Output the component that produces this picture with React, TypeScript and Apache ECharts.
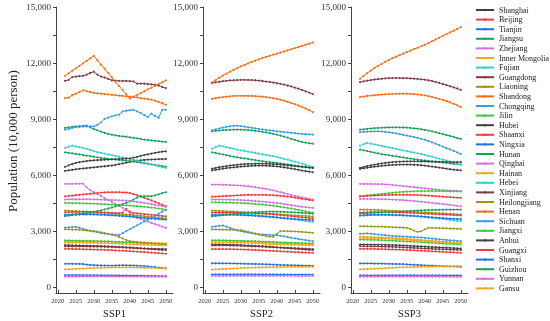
import React, { useEffect, useRef } from 'react';
import * as echarts from 'echarts';

const years = [2022, 2023, 2024, 2025, 2026, 2027, 2028, 2029, 2030, 2031, 2032, 2033, 2034, 2035, 2036, 2037, 2038, 2039, 2040, 2041, 2042, 2043, 2044, 2045, 2046, 2047, 2048, 2049, 2050];
const provinces = ['Shanghai', 'Beijing', 'Tianjin', 'Jiangsu', 'Zhejiang', 'Inner Mongolia', 'Fujian', 'Guangdong', 'Liaoning', 'Shandong', 'Chongqing', 'Jilin', 'Hubei', 'Shaanxi', 'Ningxia', 'Hunan', 'Qinghai', 'Hainan', 'Hebei', 'Xinjiang', 'Heilongjiang', 'Henan', 'Sichuan', 'Jiangxi', 'Anhui', 'Guangxi', 'Shanxi', 'Guizhou', 'Yunnan', 'Gansu'];
const palette = ['#404040', '#f23c3c', '#1f6fe8', '#16a05a', '#d66fe0', '#f0a81c', '#2ed0d0', '#7d3b45', '#9a961a', '#ff6a10', '#3a9ae0', '#3cc83c'];
const panelTitles = ['SSP1', 'SSP2', 'SSP3'];
const yTicks = [0, 3000, 6000, 9000, 12000, 15000];
const yMinorTicks = [0, 1500, 3000, 4500, 6000, 7500, 9000, 10500, 12000, 13500, 15000];
const xTicks = [2020, 2025, 2030, 2035, 2040, 2045, 2050];

// ---------- SSP1 ----------
const ssp1Shanghai = [2260,2255,2250,2245,2240,2235,2230,2225,2220,2215,2210,2200,2190,2180,2170,2160,2150,2140,2130,2115,2100,2090,2075,2060,2050,2035,2020,2010,2000];
const ssp1Beijing = [2065,2060,2055,2050,2045,2040,2035,2030,2025,2020,2015,2010,2000,1990,1980,1970,1960,1950,1940,1925,1910,1900,1890,1875,1860,1845,1830,1815,1800];
const ssp1Tianjin = [1265,1265,1260,1260,1255,1250,1220,1200,1190,1180,1175,1170,1165,1160,1170,1180,1185,1180,1175,1170,1160,1150,1140,1120,1100,1080,1060,1040,1020];
const ssp1Jiangsu = [8530,8560,8590,8610,8620,8640,8650,8560,8470,8400,8330,8260,8210,8170,8130,8100,8080,8060,8030,8000,7970,7940,7910,7880,7860,7840,7820,7800,7780];
const ssp1Zhejiang = [5535,5540,5540,5545,5545,5550,5350,5200,5100,4990,4890,4780,4680,4570,4470,4360,4255,4120,3990,3850,3720,3650,3590,3520,3450,3390,3320,3250,3190];
const ssp1InnerMongolia = [2475,2475,2470,2470,2465,2465,2460,2460,2455,2450,2450,2445,2440,2440,2435,2430,2425,2420,2415,2410,2405,2400,2395,2390,2380,2375,2365,2360,2350];
const ssp1Fujian = [3900,3910,3920,3930,3935,3940,3940,3940,3935,3930,3925,3915,3905,3895,3880,3865,3850,3835,3820,3800,3780,3760,3740,3720,3705,3690,3675,3660,3650];
const ssp1Guangdong = [11050,11100,11250,11280,11300,11320,11380,11470,11540,11380,11280,11230,11150,11080,11060,11050,11040,11050,11030,11020,10900,10900,10900,10880,10860,10840,10800,10720,10660];
const ssp1Liaoning = [4110,4100,4090,4080,4070,4060,4050,4040,4030,4015,4000,3990,3975,3960,3945,3930,3915,3900,3880,3860,3845,3830,3810,3790,3770,3750,3730,3710,3690];
const ssp1Shandong = [11320,11450,11590,11720,11850,11980,12120,12250,12380,12150,11920,11700,11470,11240,11010,10780,10560,10330,10100,10200,10290,10390,10490,10590,10680,10780,10880,10970,11070];
const ssp1Chongqing = [3190,3210,3225,3240,3190,3130,3080,3030,2990,2950,2910,2880,2850,2830,2810,2800,2900,3010,3110,3210,3320,3420,3530,3630,3730,3840,3940,4050,4150];
const ssp1Jilin = [2510,2510,2505,2500,2500,2495,2490,2485,2480,2475,2470,2465,2460,2450,2440,2430,2420,2410,2400,2390,2380,2370,2360,2350,2340,2330,2320,2310,2300];
const ssp1Hubei = [6230,6260,6290,6320,6340,6360,6380,6400,6420,6440,6460,6480,6500,6520,6550,6590,6630,6670,6710,6750,6780,6800,6820,6830,6840,6850,6860,6865,6870];
const ssp1Shaanxi = [4020,4025,4030,4035,4040,4040,4040,4035,4030,4025,4020,4010,4000,3990,3980,3970,4000,4200,4050,3980,3960,3940,3920,3900,3880,3860,3840,3820,3800];
const ssp1Ningxia = [660,660,660,660,655,655,655,655,650,650,650,645,645,645,640,640,635,635,630,630,625,625,620,615,615,610,605,600,600];
const ssp1Hunan = [7225,7200,7170,7140,7110,7080,7050,7020,6990,6960,6930,6900,6880,6860,6840,6820,6800,6780,6760,6730,6700,6670,6640,6610,6580,6550,6520,6490,6460];
const ssp1Qinghai = [575,578,580,582,583,584,585,585,585,585,585,584,584,583,582,581,580,579,578,577,576,575,574,573,572,571,570,569,568];
const ssp1Hainan = [960,970,980,990,1000,1010,1020,1030,1040,1045,1050,1055,1060,1065,1070,1070,1070,1070,1070,1065,1060,1055,1050,1045,1040,1035,1030,1020,1010];
const ssp1Hebei = [7460,7530,7580,7540,7500,7460,7410,7350,7280,7240,7200,7160,7110,7070,7030,6990,6950,6910,6870,6830,6780,6730,6680,6630,6580,6530,6480,6430,6390];
const ssp1Xinjiang = [2200,2200,2200,2195,2195,2190,2190,2185,2185,2180,2180,2175,2170,2165,2160,2150,2140,2130,2120,2110,2100,2090,2080,2075,2070,2065,2060,2055,2050];
const ssp1Heilongjiang = [3100,3100,3095,3090,3080,3060,3040,3020,3010,2980,2940,2900,2860,2820,2780,2700,2620,2540,2470,2450,2430,2410,2390,2370,2350,2340,2320,2310,2300];
const ssp1Henan = [10130,10150,10280,10360,10450,10540,10500,10450,10400,10380,10360,10340,10320,10300,10280,10260,10240,10220,10200,10180,10160,10130,10100,10070,10040,9990,9920,9850,9770];
const ssp1Sichuan = [8440,8480,8530,8580,8590,8600,8605,8610,8610,8700,8830,9020,9080,9150,9200,9240,9410,9450,9480,9500,9420,9330,9220,9110,9290,9180,9070,9500,9500];
const ssp1Jiangxi = [4520,4515,4510,4505,4500,4495,4490,4485,4480,4470,4460,4450,4440,4430,4420,4410,4400,4390,4375,4360,4345,4330,4310,4290,4270,4250,4220,4190,4165];
const ssp1Anhui = [6450,6530,6600,6660,6700,6730,6760,6780,6800,6810,6820,6830,6840,6850,6860,6870,6880,6890,6900,6940,6980,7030,7080,7120,7160,7200,7230,7260,7280];
const ssp1Guangxi = [4875,4890,4910,4930,4950,4970,4990,5010,5030,5050,5070,5080,5090,5090,5090,5090,5080,5070,5050,4990,4930,4860,4790,4720,4650,4580,4500,4420,4340];
const ssp1Shanxi = [3860,3870,3880,3890,3895,3900,3900,3900,3895,3890,3885,3875,3865,3855,3845,3830,3815,3800,3785,3770,3750,3730,3710,3690,3680,3670,3655,3640,3630];
const ssp1Guizhou = [3810,3840,3870,3900,3930,3960,3990,4020,4050,4080,4120,4170,4220,4270,4330,4390,4450,4520,4600,4700,4800,4880,4880,4880,4880,4920,4980,5040,5090];
const ssp1Yunnan = [4700,4705,4710,4712,4714,4715,4715,4712,4708,4703,4695,4688,4680,4675,4670,4660,4650,4635,4620,4600,4580,4550,4520,4490,4460,4420,4390,4350,4310];
const ssp1Gansu = [2400,2400,2400,2395,2395,2390,2390,2385,2380,2375,2370,2365,2360,2355,2350,2340,2330,2320,2310,2300,2290,2280,2275,2270,2265,2260,2255,2250,2250];

// ---------- SSP2 ----------
const ssp2Shanghai = [2300,2300,2300,2295,2290,2285,2280,2270,2260,2250,2240,2230,2220,2210,2200,2190,2175,2160,2145,2130,2115,2100,2085,2070,2055,2040,2025,2010,2000];
const ssp2Beijing = [2050,2050,2050,2050,2050,2045,2040,2035,2030,2025,2020,2010,2000,1990,1980,1970,1960,1950,1940,1930,1920,1910,1900,1890,1880,1870,1860,1855,1850];
const ssp2Tianjin = [1290,1290,1290,1285,1285,1280,1280,1275,1270,1265,1260,1255,1250,1245,1240,1235,1230,1220,1210,1200,1195,1190,1185,1180,1175,1170,1165,1160,1150];
const ssp2Jiangsu = [8350,8370,8390,8410,8420,8430,8440,8440,8440,8430,8420,8400,8380,8350,8320,8290,8250,8210,8170,8120,8070,8010,7950,7890,7830,7780,7740,7710,7690];
const ssp2Zhejiang = [5500,5500,5495,5490,5485,5475,5465,5455,5445,5430,5410,5390,5360,5330,5300,5270,5230,5190,5140,5090,5040,4990,4940,4890,4850,4810,4770,4730,4700];
const ssp2InnerMongolia = [2500,2500,2500,2495,2490,2485,2480,2475,2470,2460,2450,2440,2430,2420,2410,2400,2390,2380,2370,2360,2350,2345,2340,2335,2330,2320,2315,2310,2300];
const ssp2Fujian = [3900,3910,3920,3925,3930,3930,3930,3925,3920,3910,3900,3885,3870,3850,3830,3810,3790,3770,3750,3730,3710,3690,3670,3640,3610,3580,3550,3520,3500];
const ssp2Guangdong = [10930,10970,11000,11030,11050,11070,11080,11090,11100,11100,11095,11090,11080,11060,11040,11010,10990,10960,10930,10890,10850,10800,10750,10690,10630,10560,10490,10420,10340];
const ssp2Liaoning = [4110,4100,4090,4080,4070,4060,4050,4040,4030,4020,4010,4000,3990,3980,3970,3960,3950,3935,3920,3905,3890,3875,3860,3850,3840,3830,3820,3810,3800];
const ssp2Shandong = [10960,11090,11210,11330,11440,11540,11640,11730,11820,11900,11980,12060,12130,12200,12270,12330,12390,12450,12500,12560,12620,12680,12740,12800,12860,12920,12980,13040,13100];
const ssp2Chongqing = [3240,3260,3290,3310,3250,3180,3110,3050,3010,2970,2930,2900,2870,2840,2830,2820,2810,2800,2790,2760,2730,2690,2650,2620,2590,2560,2530,2500,2470];
const ssp2Jilin = [2520,2520,2515,2515,2510,2505,2500,2495,2490,2485,2480,2475,2470,2460,2450,2445,2440,2430,2420,2410,2400,2395,2390,2380,2375,2370,2365,2355,2350];
const ssp2Hubei = [6265,6290,6320,6350,6380,6400,6420,6440,6460,6475,6490,6500,6510,6515,6515,6510,6500,6490,6470,6450,6420,6390,6360,6330,6290,6250,6220,6190,6160];
const ssp2Shaanxi = [4000,4005,4010,4010,4010,4010,4005,4000,3995,3990,3985,3975,3965,3955,3945,3935,3920,3905,3890,3870,3850,3830,3810,3790,3770,3750,3730,3715,3700];
const ssp2Ningxia = [690,692,694,695,696,697,698,698,698,698,698,697,697,696,695,694,693,692,691,690,689,688,687,686,685,684,683,682,680];
const ssp2Hunan = [7225,7190,7150,7110,7070,7030,6990,6960,6925,6900,6870,6840,6810,6780,6750,6720,6700,6680,6660,6630,6600,6580,6550,6520,6490,6460,6440,6410,6390];
const ssp2Qinghai = [610,611,612,613,614,615,616,617,618,618,619,619,620,620,620,620,620,620,620,619,619,618,618,617,616,615,614,613,612];
const ssp2Hainan = [950,960,970,980,990,1000,1010,1020,1030,1040,1050,1055,1060,1065,1070,1075,1080,1085,1090,1090,1095,1095,1098,1100,1100,1100,1100,1100,1100];
const ssp2Hebei = [7420,7500,7580,7540,7500,7460,7420,7370,7330,7300,7260,7230,7190,7160,7120,7090,7050,7020,6980,6930,6880,6830,6780,6730,6680,6620,6560,6500,6440];
const ssp2Xinjiang = [2250,2250,2250,2250,2245,2240,2235,2230,2225,2220,2210,2200,2195,2190,2180,2170,2160,2150,2140,2130,2120,2110,2100,2095,2090,2080,2070,2060,2050];
const ssp2Heilongjiang = [3100,3100,3095,3090,3085,3080,3075,3070,3060,3020,2980,2930,2880,2830,2790,2750,2720,2705,2860,3010,3010,3005,3000,2990,2980,2965,2950,2935,2920];
const ssp2Henan = [10090,10120,10150,10180,10200,10220,10240,10245,10250,10250,10245,10240,10230,10215,10200,10180,10155,10125,10090,10040,9990,9930,9870,9800,9730,9650,9570,9480,9380];
const ssp2Sichuan = [8400,8450,8500,8550,8590,8620,8640,8650,8630,8600,8570,8540,8510,8480,8450,8420,8400,8380,8350,8330,8310,8290,8270,8250,8230,8210,8200,8180,8170];
const ssp2Jiangxi = [4550,4550,4545,4540,4535,4530,4525,4520,4510,4500,4490,4475,4460,4445,4430,4410,4390,4370,4340,4310,4280,4250,4220,4180,4150,4110,4070,4030,4000];
const ssp2Anhui = [6350,6390,6430,6460,6490,6520,6540,6560,6580,6595,6605,6610,6615,6620,6620,6615,6610,6600,6590,6570,6550,6530,6510,6490,6470,6450,6430,6410,6390];
const ssp2Guangxi = [4850,4860,4870,4880,4890,4900,4910,4920,4930,4940,4945,4950,4950,4950,4950,4945,4940,4930,4915,4900,4880,4860,4830,4800,4770,4740,4710,4680,4650];
const ssp2Shanxi = [3850,3860,3870,3875,3880,3880,3880,3875,3870,3860,3850,3840,3830,3815,3800,3785,3770,3755,3740,3720,3700,3685,3670,3655,3640,3630,3620,3610,3600];
const ssp2Guizhou = [3800,3820,3840,3860,3880,3900,3920,3940,3960,3980,3995,4010,4020,4030,4040,4045,4050,4050,4050,4045,4040,4030,4020,4010,4000,3990,3975,3960,3950];
const ssp2Yunnan = [4700,4700,4700,4700,4695,4690,4685,4680,4670,4660,4650,4635,4620,4605,4590,4570,4550,4530,4510,4490,4460,4430,4400,4370,4340,4310,4290,4270,4250];
const ssp2Gansu = [2420,2420,2420,2415,2410,2405,2400,2395,2390,2385,2380,2370,2360,2350,2340,2330,2320,2310,2300,2295,2290,2285,2280,2275,2270,2265,2260,2255,2250];

// ---------- SSP3 ----------
const ssp3Shanghai = [2295,2295,2295,2290,2290,2285,2280,2275,2270,2265,2260,2250,2240,2230,2220,2210,2200,2190,2180,2170,2160,2150,2140,2130,2120,2110,2100,2090,2080];
const ssp3Beijing = [2065,2065,2060,2060,2055,2050,2045,2040,2035,2030,2025,2020,2010,2000,1990,1980,1970,1960,1950,1940,1930,1920,1910,1900,1890,1880,1870,1860,1850];
const ssp3Tianjin = [1280,1280,1280,1280,1275,1275,1270,1265,1260,1255,1250,1245,1240,1230,1220,1210,1200,1190,1180,1170,1160,1150,1140,1135,1130,1120,1115,1110,1100];
const ssp3Jiangsu = [8440,8460,8480,8500,8515,8530,8540,8550,8555,8560,8560,8560,8555,8545,8530,8510,8490,8460,8430,8390,8350,8300,8250,8200,8150,8100,8050,7990,7940];
const ssp3Zhejiang = [5535,5535,5535,5530,5530,5525,5520,5510,5500,5480,5460,5440,5420,5400,5380,5360,5340,5320,5300,5280,5260,5240,5220,5200,5190,5180,5170,5160,5145];
const ssp3InnerMongolia = [2705,2700,2695,2690,2685,2680,2670,2660,2650,2640,2630,2620,2610,2595,2580,2565,2550,2535,2520,2505,2490,2475,2460,2445,2430,2420,2405,2395,2385];
const ssp3Fujian = [3830,3845,3860,3870,3880,3885,3890,3890,3890,3885,3880,3870,3860,3850,3835,3820,3800,3780,3760,3740,3720,3700,3680,3660,3640,3610,3590,3560,3540];
const ssp3Guangdong = [10980,11020,11060,11090,11120,11140,11160,11180,11190,11200,11200,11200,11195,11190,11180,11165,11150,11130,11110,11080,11040,10990,10940,10880,10820,10760,10700,10640,10570];
const ssp3Liaoning = [4165,4160,4155,4150,4145,4140,4130,4120,4110,4100,4090,4080,4070,4060,4050,4040,4030,4020,4010,4000,3990,3980,3970,3960,3950,3940,3925,3910,3900];
const ssp3Shandong = [11160,11320,11460,11600,11730,11850,11960,12070,12175,12260,12340,12420,12500,12590,12670,12750,12820,12900,12980,13070,13170,13260,13360,13460,13550,13640,13730,13830,13920];
const ssp3Chongqing = [2865,2880,2890,2870,2850,2830,2810,2790,2770,2750,2740,2730,2720,2710,2700,2690,2680,2670,2650,2630,2610,2590,2570,2560,2540,2520,2510,2490,2475];
const ssp3Jilin = [2560,2555,2550,2545,2540,2535,2530,2520,2510,2500,2490,2480,2470,2460,2450,2440,2430,2420,2405,2390,2380,2370,2355,2345,2335,2325,2315,2305,2300];
const ssp3Hubei = [6340,6370,6400,6430,6460,6480,6500,6520,6540,6550,6560,6565,6570,6570,6570,6560,6550,6535,6515,6490,6465,6440,6410,6380,6350,6320,6300,6280,6260];
const ssp3Shaanxi = [4000,4010,4020,4025,4030,4030,4030,4025,4020,4015,4010,4005,4000,3995,3990,3980,3970,3960,3950,3940,3930,3920,3910,3900,3890,3880,3870,3860,3850];
const ssp3Ningxia = [640,641,642,643,644,645,646,646,647,647,647,648,648,648,648,648,647,647,646,646,645,645,644,643,642,641,640,639,638];
const ssp3Hunan = [7370,7330,7290,7250,7210,7170,7130,7100,7070,7040,7010,6980,6950,6920,6890,6860,6840,6810,6790,6770,6740,6720,6700,6680,6660,6640,6610,6590,6570];
const ssp3Qinghai = [570,571,572,573,574,575,576,577,577,578,578,578,578,578,578,577,577,576,576,575,575,574,573,572,571,570,569,568,567];
const ssp3Hainan = [960,970,980,990,1000,1010,1020,1030,1040,1050,1060,1070,1075,1080,1085,1090,1095,1100,1105,1110,1115,1120,1120,1125,1125,1130,1130,1135,1135];
const ssp3Hebei = [7580,7660,7730,7690,7650,7610,7570,7530,7490,7450,7410,7370,7330,7290,7250,7210,7170,7130,7090,7040,6990,6940,6890,6840,6790,6730,6680,6620,6570];
const ssp3Xinjiang = [2205,2205,2200,2200,2195,2190,2185,2180,2175,2170,2160,2150,2140,2130,2120,2110,2100,2090,2080,2070,2060,2050,2045,2040,2030,2020,2015,2005,2000];
const ssp3Heilongjiang = [3275,3270,3265,3260,3255,3250,3245,3240,3235,3225,3215,3205,3195,3185,3120,3040,2970,3000,3100,3185,3180,3175,3170,3165,3160,3150,3145,3135,3130];
const ssp3Henan = [10180,10210,10240,10260,10280,10300,10315,10330,10340,10350,10355,10360,10360,10360,10355,10340,10320,10300,10270,10230,10190,10140,10090,10030,9970,9900,9820,9740,9650];
const ssp3Sichuan = [8310,8320,8330,8340,8345,8345,8340,8320,8300,8270,8240,8200,8160,8120,8080,8040,8000,7950,7900,7830,7760,7690,7610,7530,7450,7380,7300,7220,7140];
const ssp3Jiangxi = [4880,4900,4920,4940,4960,4980,5000,5020,5040,5060,5080,5100,5110,5120,5130,5140,5145,5150,5150,5155,5155,5150,5150,5145,5145,5140,5140,5140,5140];
const ssp3Anhui = [6390,6440,6490,6530,6570,6600,6630,6660,6680,6700,6715,6725,6735,6740,6745,6745,6745,6740,6735,6730,6725,6720,6715,6710,6710,6705,6705,6700,6700];
const ssp3Guangxi = [4875,4885,4895,4905,4915,4925,4935,4940,4945,4950,4955,4955,4955,4955,4950,4945,4940,4930,4920,4910,4895,4880,4865,4850,4840,4825,4815,4800,4790];
const ssp3Shanxi = [3850,3860,3870,3875,3880,3880,3880,3880,3875,3870,3865,3860,3850,3840,3830,3820,3810,3795,3780,3765,3750,3735,3720,3705,3690,3680,3670,3660,3650];
const ssp3Guizhou = [3950,3960,3970,3980,3990,4000,4010,4020,4030,4040,4050,4060,4070,4080,4090,4100,4110,4120,4130,4135,4140,4145,4150,4155,4160,4160,4165,4165,4165];
const ssp3Yunnan = [4735,4735,4735,4730,4730,4725,4720,4715,4710,4700,4690,4680,4665,4650,4635,4620,4600,4580,4560,4540,4520,4500,4480,4460,4440,4415,4390,4365,4340];
const ssp3Gansu = [2650,2645,2640,2635,2630,2625,2615,2605,2595,2585,2575,2565,2555,2545,2530,2515,2500,2490,2475,2460,2445,2430,2420,2405,2390,2380,2370,2360,2350];

const ssp1 = [ssp1Shanghai, ssp1Beijing, ssp1Tianjin, ssp1Jiangsu, ssp1Zhejiang, ssp1InnerMongolia, ssp1Fujian, ssp1Guangdong, ssp1Liaoning, ssp1Shandong, ssp1Chongqing, ssp1Jilin, ssp1Hubei, ssp1Shaanxi, ssp1Ningxia, ssp1Hunan, ssp1Qinghai, ssp1Hainan, ssp1Hebei, ssp1Xinjiang, ssp1Heilongjiang, ssp1Henan, ssp1Sichuan, ssp1Jiangxi, ssp1Anhui, ssp1Guangxi, ssp1Shanxi, ssp1Guizhou, ssp1Yunnan, ssp1Gansu];
const ssp2 = [ssp2Shanghai, ssp2Beijing, ssp2Tianjin, ssp2Jiangsu, ssp2Zhejiang, ssp2InnerMongolia, ssp2Fujian, ssp2Guangdong, ssp2Liaoning, ssp2Shandong, ssp2Chongqing, ssp2Jilin, ssp2Hubei, ssp2Shaanxi, ssp2Ningxia, ssp2Hunan, ssp2Qinghai, ssp2Hainan, ssp2Hebei, ssp2Xinjiang, ssp2Heilongjiang, ssp2Henan, ssp2Sichuan, ssp2Jiangxi, ssp2Anhui, ssp2Guangxi, ssp2Shanxi, ssp2Guizhou, ssp2Yunnan, ssp2Gansu];
const ssp3 = [ssp3Shanghai, ssp3Beijing, ssp3Tianjin, ssp3Jiangsu, ssp3Zhejiang, ssp3InnerMongolia, ssp3Fujian, ssp3Guangdong, ssp3Liaoning, ssp3Shandong, ssp3Chongqing, ssp3Jilin, ssp3Hubei, ssp3Shaanxi, ssp3Ningxia, ssp3Hunan, ssp3Qinghai, ssp3Hainan, ssp3Hebei, ssp3Xinjiang, ssp3Heilongjiang, ssp3Henan, ssp3Sichuan, ssp3Jiangxi, ssp3Anhui, ssp3Guangxi, ssp3Shanxi, ssp3Guizhou, ssp3Yunnan, ssp3Gansu];
const scenarios = [ssp1, ssp2, ssp3];

export default function App() {
  const ref = useRef<HTMLDivElement>(null);
  useEffect(() => {
    if (!ref.current) return;
    const chart = echarts.init(ref.current, null, { renderer: 'svg' });
    const font = 'Liberation Serif';
    const axisColor = '#444';
    const gridLefts = [56, 203, 351];
    const gridW = 117;
    const grids = gridLefts.map((l) => ({ left: l, top: 7, width: gridW, height: 286 }));
    const xAxes = gridLefts.map((_, i) => ({
      type: 'value',
      gridIndex: i,
      min: 2019.5,
      max: 2052,
      axisLine: { show: true, onZero: false, lineStyle: { color: axisColor, width: 1 } },
      axisTick: { show: true, inside: true, length: 3, customValues: xTicks, lineStyle: { color: axisColor } },
      axisLabel: {
        show: true,
        customValues: xTicks,
        fontFamily: font,
        fontSize: 6.5,
        color: '#333',
        margin: 4,
        formatter: (v: number) => String(Math.round(v)),
      },
      splitLine: { show: false },
    }));
    const yAxes = gridLefts.map((_, i) => ({
      type: 'value',
      gridIndex: i,
      min: -300,
      max: 15000,
      axisLine: { show: true, onZero: false, lineStyle: { color: axisColor, width: 1 } },
      axisTick: { show: true, inside: false, length: 3, customValues: yMinorTicks, lineStyle: { color: axisColor } },
      axisLabel: {
        show: true,
        customValues: yTicks,
        fontFamily: font,
        fontSize: 9,
        color: '#333',
        margin: 5,
        formatter: (v: number) => Number(v).toLocaleString('en-US'),
      },
      splitLine: { show: false },
    }));
    const series: any[] = [];
    scenarios.forEach((sc, p) => {
      sc.forEach((vals, i) => {
        const color = palette[i % palette.length];
        series.push({
          type: 'line',
          name: provinces[i],
          xAxisIndex: p,
          yAxisIndex: p,
          data: years.map((y, k) => [y, vals[k]]),
          symbol: 'circle',
          symbolSize: 2,
          showSymbol: true,
          lineStyle: { width: 1, color },
          itemStyle: { color },
          emphasis: { disabled: true },
        });
      });
    });
    const graphics: any[] = [
      {
        type: 'text',
        x: 12,
        y: 141,
        rotation: Math.PI / 2,
        style: {
          text: 'Population (10,000 person)',
          font: `13px ${font}`,
          fill: '#222',
          align: 'center',
          verticalAlign: 'middle',
        },
      },
    ];
    panelTitles.forEach((t, i) => {
      graphics.push({
        type: 'text',
        x: gridLefts[i] + gridW / 2,
        y: 313,
        style: { text: t, font: `10.5px ${font}`, fill: '#222', align: 'center', verticalAlign: 'middle' },
      });
    });
    chart.setOption({
      animation: false,
      grid: grids,
      xAxis: xAxes,
      yAxis: yAxes,
      legend: {
        orient: 'vertical',
        left: 475,
        top: 6,
        padding: 0,
        itemWidth: 18,
        itemHeight: 3,
        itemGap: 1.6,
        textStyle: { fontFamily: font, fontSize: 8, lineHeight: 8, color: '#222' },
        data: provinces,
      },
      graphic: graphics,
      series,
    });
    return () => chart.dispose();
  }, []);
  return <div ref={ref} style={{ position: 'fixed', left: 0, top: 0, width: 550, height: 321 }} />;
}
